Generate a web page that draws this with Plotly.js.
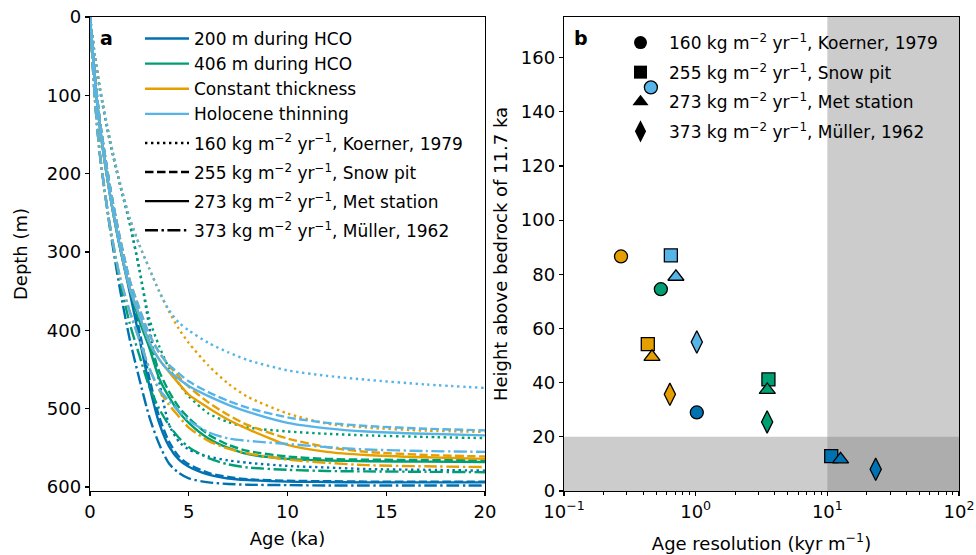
<!DOCTYPE html>
<html><head><meta charset="utf-8">
<script src="https://cdn.plot.ly/plotly-3.0.1.min.js"></script>
<style>html,body{margin:0;padding:0;background:#fff}</style>
</head><body><div id="chart" style="width:976px;height:555px"></div>
<script>
// ---------- Panel a: depth-age curves ----------
const ageKa = [0,0.25,0.5,1,1.5,2,2.5,3,3.5,4,4.5,5,6,7,8,10,12,14,17,20];

// 200 m during HCO (dark blue)
const hco200_koerner  = [0,50,92,158,212,262,322,395,465,520,542,552,561,566,569,573,575,577,578,579];
const hco200_snowpit  = [0,75,133,215,282,340,400,460,510,542,561,571,582,587,590,592,592.5,593,593,593];
const hco200_met      = [0,80,140,225,292,350,410,470,518,548,565,574,584,589,591,593,593.5,594,594,594];
const hco200_muller   = [0,105,175,268,345,410,462,510,545,570,582,589,594,596,597,597.5,598,598,598,598];
// 406 m during HCO (green)
const hco406_koerner  = [0,50,92,158,212,262,322,385,420,448,468,484,506,517,524,529,532,534,536,537.5];
const hco406_snowpit  = [0,75,133,215,282,336,380,414,452,478,498,512,533,546,554,561,564,565,565.5,566];
const hco406_met      = [0,80,140,225,292,345,388,422,461,485,504,518,538,550,558,564,566,567,567.5,568];
const hco406_muller   = [0,105,175,265,335,390,432,472,500,521,537,549,563,571,575,578,579.5,580,580.5,581];
// Constant thickness (orange)
const const_koerner   = [0,50,90,155,210,256,291,321,350,376,398,416,445,468,485,506,519,524,528,529.5];
const const_snowpit   = [0,75,133,215,280,335,372,405,428,445,459,472,492,508,521,538,549,555,559,561];
const const_met       = [0,80,140,225,290,345,381,415,437,453,468,482,499,514,526,546,555,559,562,564];
const const_muller    = [0,105,175,265,330,375,412,448,476,495,510,524,541,551,557,565,569,572,573.5,574.5];
// Holocene thinning (light blue)
const thin_koerner    = [0,50,90,155,210,256,291,321,350,374,390,400,416,428,438,451,458,463,469,473.5];
const thin_snowpit    = [0,75,133,215,280,335,372,405,428,444,455,465,479,490,499,511,518,522,525.5,527.6];
const thin_met        = [0,80,140,225,290,345,381,415,437,452,462,471,484,495,504,518,525,529,532,534];
const thin_muller     = [0,105,175,265,330,375,412,448,475,490,503,515,530,538,541,545,549,552,554,555];

const scenarioNames = ['200 m during HCO','406 m during HCO','Constant thickness','Holocene thinning'];
const scenarioColors = ['#0072B2','#009E73','#E69F00','#56B4E9'];
const accumNames = ['160 kg m<sup>−2</sup> yr<sup>−1</sup>, Koerner, 1979',
                    '255 kg m<sup>−2</sup> yr<sup>−1</sup>, Snow pit',
                    '273 kg m<sup>−2</sup> yr<sup>−1</sup>, Met station',
                    '373 kg m<sup>−2</sup> yr<sup>−1</sup>, Müller, 1962'];

// ---------- Panel b: age resolution vs height above bedrock ----------
// order of points in each array: 200 m HCO, 406 m HCO, Constant thickness, Holocene thinning
const res_koerner = [1.02, 0.544, 0.271, 0.457];
const hgt_koerner = [29, 74.5, 86.6, 149];
const res_snowpit = [10.7, 3.57, 0.433, 0.648];
const hgt_snowpit = [12.9, 41.2, 54.2, 87];
const res_met     = [12.6, 3.5, 0.466, 0.708];
const hgt_met     = [11.7, 37.3, 49.5, 79.1];
const res_muller  = [23.3, 3.49, 0.637, 1.02];
const hgt_muller  = [8, 25.5, 35.7, 55];

// ---------- build ----------
const FONT = 'DejaVu Sans, sans-serif';
const dashes = ['2.4px,3.6px', '8.5px,3.5px', 'solid', '13px,3.5px,2.4px,3.5px'];
const curveSets = [
  [hco200_koerner, hco200_snowpit, hco200_met, hco200_muller],
  [hco406_koerner, hco406_snowpit, hco406_met, hco406_muller],
  [const_koerner, const_snowpit, const_met, const_muller],
  [thin_koerner, thin_snowpit, thin_met, thin_muller]
];
const traces = [];
curveSets.forEach((set, ci) => {
  set.forEach((depths, si) => {
    traces.push({
      x: ageKa, y: depths, xaxis: 'x', yaxis: 'y', mode: 'lines',
      line: {color: scenarioColors[ci], width: 2.4, dash: dashes[si], shape: 'spline', smoothing: 0.7},
      name: si === 2 ? scenarioNames[ci] : '',
      showlegend: si === 2, legend: 'legend', legendgroup: 'colors', legendrank: ci + 1, hoverinfo: 'skip'
    });
  });
});
accumNames.forEach((nm, si) => {
  traces.push({
    x: [null], y: [null], xaxis: 'x', yaxis: 'y', mode: 'lines',
    line: {color: 'black', width: 2.4, dash: dashes[si]},
    name: nm, showlegend: true, legend: 'legend', legendgroup: 'style' + si, legendrank: 5 + si
  });
});

const markerSyms = ['circle', 'square', 'triangle-up', 'diamond-tall'];
const markerSizes = [13, 13, 14, 16];
const bx = [res_koerner, res_snowpit, res_met, res_muller];
const by = [hgt_koerner, hgt_snowpit, hgt_met, hgt_muller];
markerSyms.forEach((sym, i) => {
  traces.push({
    x: bx[i], y: by[i], xaxis: 'x2', yaxis: 'y2', mode: 'markers',
    marker: {symbol: sym, size: markerSizes[i], color: scenarioColors, line: {color: 'black', width: 1.3}},
    showlegend: false, hoverinfo: 'skip'
  });
});
accumNames.forEach((nm, i) => {
  traces.push({
    x: [null], y: [null], xaxis: 'x2', yaxis: 'y2', mode: 'markers',
    marker: {symbol: markerSyms[i], size: markerSizes[i], color: 'black'},
    name: nm, showlegend: true, legend: 'legend2', legendgroup: 'm' + i, legendrank: i + 1
  });
});

const W = 976, H = 555;
const axCommon = {
  showline: true, linecolor: 'black', linewidth: 1.3, mirror: true,
  ticks: 'outside', ticklen: 4, tickwidth: 1.2, tickcolor: 'black',
  showgrid: false, zeroline: false,
  tickfont: {family: FONT, size: 18, color: 'black'}
};
const yDom = [1 - 491 / H, 1 - 17 / H];
const layout = {
  width: W, height: H, margin: {l: 0, r: 0, t: 0, b: 0},
  paper_bgcolor: 'white', plot_bgcolor: 'white',
  font: {family: FONT, color: 'black'},
  xaxis: Object.assign({}, axCommon, {
    domain: [90 / W, 485 / W], range: [0, 20], tickvals: [0, 5, 10, 15, 20], anchor: 'y',
    title: {text: 'Age (ka)', font: {family: FONT, size: 18}, standoff: 11}
  }),
  yaxis: Object.assign({}, axCommon, {
    domain: yDom, range: [605, 0], tickvals: [0, 100, 200, 300, 400, 500, 600], anchor: 'x',
    title: {text: 'Depth (m)', font: {family: FONT, size: 18}, standoff: 14}
  }),
  xaxis2: Object.assign({}, axCommon, {
    domain: [564 / W, 959 / W], type: 'log', range: [-1, 2], anchor: 'y2',
    tickvals: [0.1, 1, 10, 100],
    ticktext: ['10<sup>−1</sup>', '10<sup>0</sup>', '10<sup>1</sup>', '10<sup>2</sup>'],
    minor: {ticks: 'outside', ticklen: 2.5, tickwidth: 1, tickcolor: 'black', dtick: 'D1', showgrid: false},
    title: {text: 'Age resolution (kyr m<sup>−1</sup>)', font: {family: FONT, size: 18}, standoff: 16}
  }),
  yaxis2: Object.assign({}, axCommon, {
    domain: yDom, range: [0, 175], tickvals: [0, 20, 40, 60, 80, 100, 120, 140, 160], anchor: 'x2',
    title: {text: 'Height above bedrock of 11.7 ka', font: {family: FONT, size: 18}, standoff: 8}
  }),
  shapes: [
    {type: 'rect', xref: 'x2', yref: 'y2 domain', x0: 10, x1: 100, y0: 0, y1: 1,
     fillcolor: 'rgba(128,128,128,0.4)', line: {width: 0}, layer: 'below'},
    {type: 'rect', xref: 'x2 domain', yref: 'y2', x0: 0, x1: 1, y0: 0, y1: 20,
     fillcolor: 'rgba(128,128,128,0.4)', line: {width: 0}, layer: 'below'}
  ],
  annotations: [
    {text: '<b>a</b>', xref: 'paper', yref: 'paper', x: 98 / W, y: 1 - 38 / H, xanchor: 'left', yanchor: 'middle',
     showarrow: false, font: {family: FONT, size: 19}},
    {text: '<b>b</b>', xref: 'paper', yref: 'paper', x: 572 / W, y: 1 - 38 / H, xanchor: 'left', yanchor: 'middle',
     showarrow: false, font: {family: FONT, size: 19}}
  ],
  legend: {x: 140 / W, y: 1 - 21 / H, xanchor: 'left', yanchor: 'top', bgcolor: 'rgba(0,0,0,0)',
           font: {family: FONT, size: 17}, tracegroupgap: 4, itemwidth: 44, traceorder: 'grouped'},
  legend2: {x: 612 / W, y: 1 - 25 / H, xanchor: 'left', yanchor: 'top', bgcolor: 'rgba(0,0,0,0)',
            font: {family: FONT, size: 17}, tracegroupgap: 4.5, itemwidth: 47, traceorder: 'grouped'}
};
Plotly.newPlot('chart', traces, layout, {displayModeBar: false, staticPlot: true});
</script></body></html>
